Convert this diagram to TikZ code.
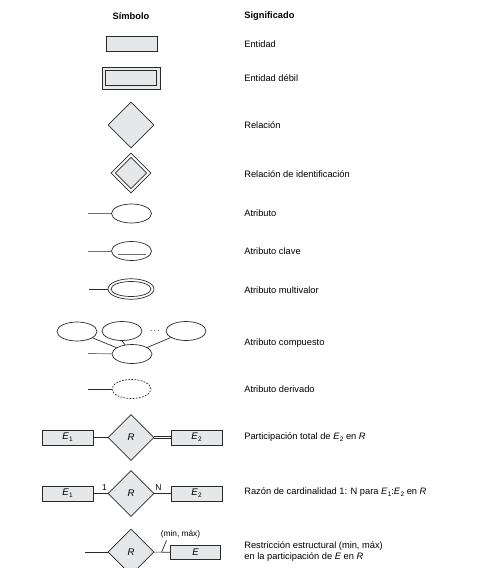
\documentclass[tikz,border=0pt]{standalone}
\usepackage{fontspec}
\setmainfont{Liberation Sans}
\usetikzlibrary{shapes.geometric}
\definecolor{efill}{HTML}{E6E7E8}
\definecolor{lc}{HTML}{2A2A2A}
\definecolor{lg}{HTML}{6E6E6E}
\newcommand\ersub[2]{\textit{#1}\kern0.3pt\raisebox{-0.4ex}{\fontsize{6.5}{7}\selectfont #2}}
\begin{document}
\begin{tikzpicture}[x=1pt,y=-1pt,
  font=\fontsize{9.3}{11}\selectfont,
  line width=0.7pt,
  ent/.style={draw=lc, fill=efill, minimum width=51pt, minimum height=15pt, inner sep=0pt, font=\fontsize{9.6}{11}\selectfont},
  rel/.style={diamond, draw=lc, fill=efill, minimum width=46pt, minimum height=46pt, inner sep=0pt, aspect=1, font=\fontsize{9.6}{11}\selectfont},
  attr/.style={ellipse, draw=lc, minimum width=40pt, minimum height=19pt, inner sep=0pt},
  lbl/.style={anchor=west, inner sep=0pt},
  hdr/.style={font=\fontsize{9.3}{11}\selectfont\bfseries, inner sep=0pt}]
\useasboundingbox (0,0) rectangle (483,568);
\clip (0,0) rectangle (483,568);

% headers
\node[hdr] (hs) at (131,16) {Símbolo};
\node[hdr, anchor=west] (hm) at (244,16) {Significado};

% Entidad
\node[ent] (ent) at (131.5,43.5) {};
\node[lbl] (tent) at (244,44) {Entidad};

% Entidad debil
\node[draw=lc, fill=efill, minimum width=58pt, minimum height=22pt, inner sep=0pt] (wo) at (131,78) {};
\node[draw=lc, fill=efill, minimum width=51pt, minimum height=15pt, inner sep=0pt] (wi) at (131,78) {};
\node[lbl] (twe) at (244,78) {Entidad débil};

% Relacion
\node[rel] (rel) at (131,125) {};
\node[lbl] (trel) at (244,125) {Relación};

% Relacion de identificacion
\node[diamond, draw=lc, minimum width=40pt, minimum height=40pt, inner sep=0pt, aspect=1] (ido) at (131,173) {};
\node[diamond, draw=lc, fill=efill, minimum width=31.5pt, minimum height=31.5pt, inner sep=0pt, aspect=1] (idi) at (131,173) {};
\node[lbl] (tid) at (244,174) {Relación de identificación};

% Atributo
\node[attr] (at) at (131.5,213.5) {};
\coordinate (atl) at (88,213.5);
\draw[lg] (atl) -- (at);
\node[lbl] (tat) at (244,213) {Atributo};

% Atributo clave
\node[attr] (ak) at (131.5,251) {};
\coordinate (akl) at (88,251);
\draw[lg, line width=0.9pt] (akl) -- (ak);
\coordinate (ku1) at (118,254.7);
\coordinate (ku2) at (145.5,254.7);
\draw[lg, line width=1pt] (ku1) -- (ku2);
\node[lbl] (tak) at (244,251) {Atributo clave};

% Atributo multivalor
\node[ellipse, draw=lc, minimum width=46pt, minimum height=20.5pt, inner sep=0pt] (amo) at (131,289) {};
\node[ellipse, draw=lc, minimum width=40pt, minimum height=15pt, inner sep=0pt] (ami) at (131,289) {};
\coordinate (aml) at (89,289);
\draw[lc] (aml) -- (amo);
\node[lbl] (tam) at (244,290) {Atributo multivalor};

% Atributo compuesto
\node[attr] (c1) at (77,331.5) {};
\node[attr] (c2) at (122,331) {};
\node[attr] (c3) at (186,331) {};
\node[attr] (cb) at (132,354) {};
\node[anchor=base, inner sep=0pt, font=\fontsize{8}{9}\selectfont] (cd) at (155,331.5) {.\kern1.6pt.\kern1.6pt.};
\draw[lc] (c1) -- (cb);
\draw[lc] (c2.south) -- (cb);
\draw[lc] (c3) -- (cb);
\coordinate (cl) at (88,353.5);
\draw[lg] (cl) -- (cb);
\node[lbl] (tac) at (244,343) {Atributo compuesto};

% Atributo derivado
\node[attr, dash pattern=on 1.8pt off 1.3pt, minimum width=39pt] (ad) at (131.5,389) {};
\coordinate (adl) at (88,389);
\draw[lc] (adl) -- (ad);
\node[lbl] (tad) at (244,389) {Atributo derivado};

% Participacion total
\node[ent] (p1) at (67.5,437.5) {\ersub{E}{1}};
\node[rel] (pr) at (131,437.5) {\textit{R}};
\node[ent] (p2) at (196.5,437.5) {\ersub{E}{2}};
\draw[lc] (p1) -- (pr);
\draw[lc, double=white, double distance=1.8pt, line width=0.55pt] (pr) -- (p2);
\node[lbl] (tpt) at (244,437) {Participación total de \ersub{E}{2} en \textit{R}};

% Cardinalidad
\node[ent] (k1) at (67.5,493.5) {\ersub{E}{1}};
\node[rel] (kr) at (131,493.5) {\textit{R}};
\node[ent] (k2) at (196.5,493.5) {\ersub{E}{2}};
\draw[lc] (k1) -- (kr);
\draw[lc] (kr) -- (k2);
\node[inner sep=0pt, font=\fontsize{8.5}{9}\selectfont] (k1l) at (104.5,488) {1};
\node[inner sep=0pt, font=\fontsize{8.5}{9}\selectfont] (k2l) at (158.5,488) {N};
\node[lbl] (tk) at (244,492.5) {Razón de cardinalidad 1: N para \ersub{E}{1}:\ersub{E}{2} en \textit{R}};

% Restriccion estructural
\node[rel] (sr) at (131,552) {\textit{R}};
\node[ent, minimum width=49.5pt, minimum height=14pt] (se) at (195.5,552.3) {\textit{E}};
\coordinate (sl) at (85,552);
\draw[lc] (sl) -- (sr);
\draw[lc] (sr) -- (se);
\coordinate (st1) at (161.7,552);
\coordinate (st2) at (166.5,540.5);
\draw[lc] (st1) -- (st2);
\node[inner sep=0pt, font=\fontsize{8.3}{9}\selectfont] (sml) at (180.5,534) {(min, máx)};
\node[lbl, align=left, font=\fontsize{9.3}{10.7}\selectfont] (ts) at (244,551.5) {Restricción estructural (min, máx)\\en la participación de \textit{E} en \textit{R}};
\end{tikzpicture}
\end{document}
